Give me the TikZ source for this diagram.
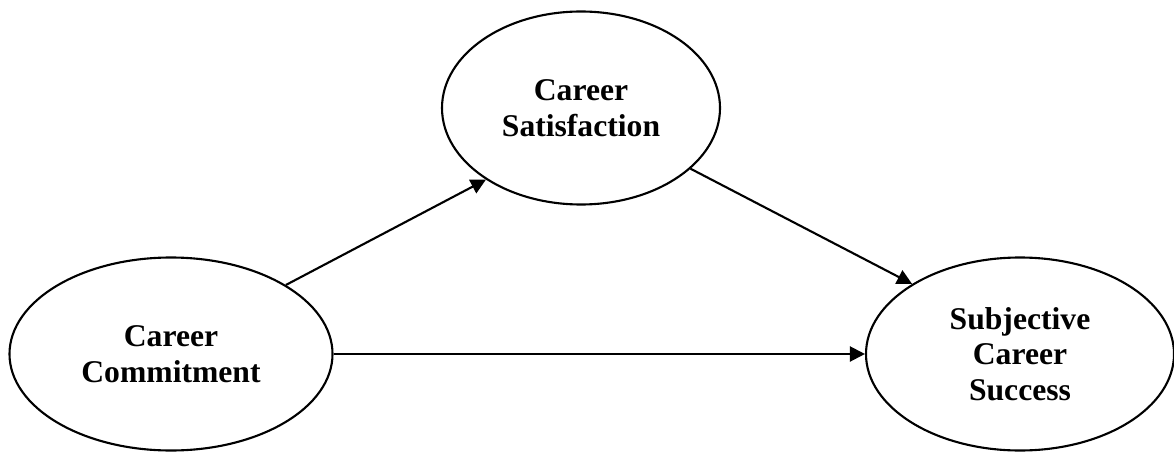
\documentclass[tikz,border=0pt]{standalone}
\usepackage{fontspec}
\setmainfont{Liberation Serif}
\usepackage{tikz}
\usetikzlibrary{arrows.meta, shapes.geometric}

\begin{document}
\begin{tikzpicture}[
    font=\fontsize{18}{20.3}\selectfont\bfseries,
    construct/.style={draw, ellipse, line width=1.2pt, inner sep=0pt, minimum height=3.86cm, align=center},
    arr/.style={-{Triangle[length=3mm, width=3mm]}, line width=1.2pt},
]
\useasboundingbox (0,0) rectangle (23.48,-9.04);

% --- Constructs ---
\node[construct, minimum width=6.46cm] (commit) at (3.42, -7.08) {Career\\Commitment};
\node[construct, minimum width=5.56cm] (satis) at (11.62, -2.16) {Career\\Satisfaction};
\node[construct, minimum width=6.16cm] (success) at (20.4, -7.08) {Subjective\\Career\\Success};

% --- Paths ---
\draw[arr] (commit.31) -- (satis.217);
\draw[arr] (satis.-29) -- (success.147);
\draw[arr] (commit.east) -- (success.west);

\end{tikzpicture}
\end{document}
